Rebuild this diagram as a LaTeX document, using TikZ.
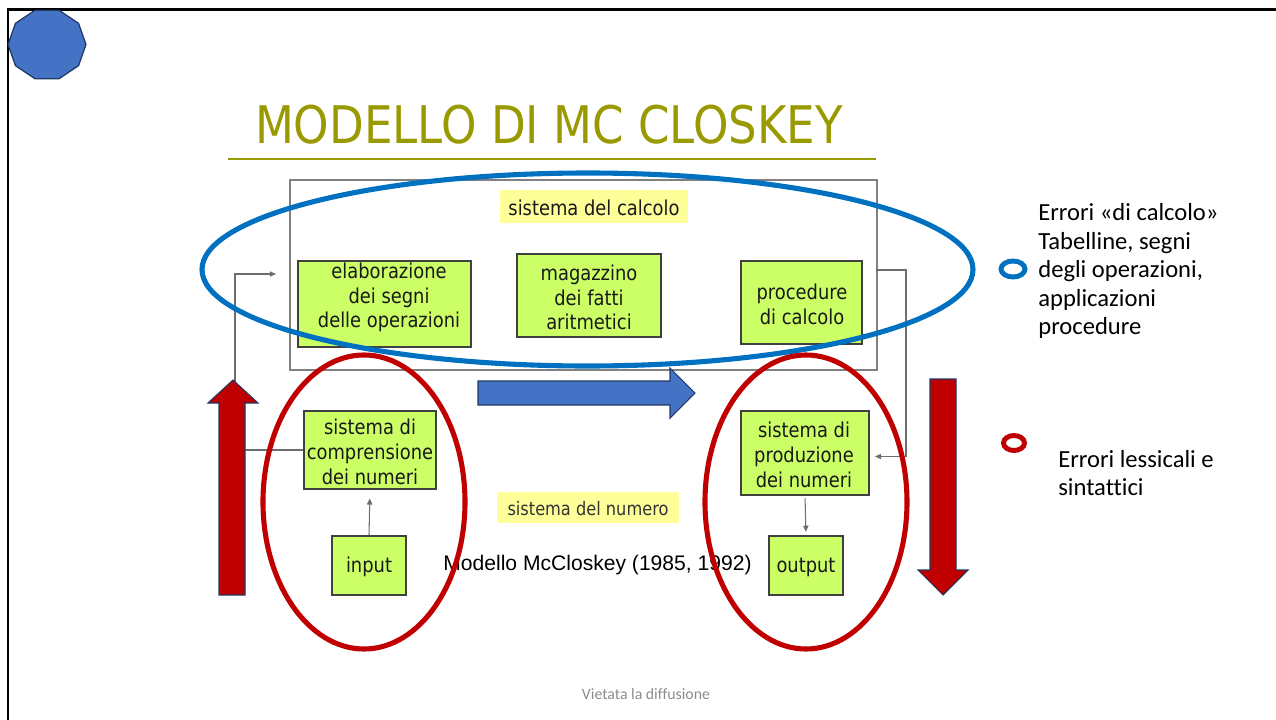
\documentclass[tikz,border=0pt]{standalone}
\usepackage{fontspec}
\setmainfont[Ligatures=NoCommon]{Carlito}
\newfontfamily\boxfont[FakeStretch=0.87]{DejaVu Sans}
\newfontfamily\arialfont{Liberation Sans}
\usetikzlibrary{arrows.meta}

\definecolor{titleolive}{RGB}{153,153,0}
\definecolor{boxgreen}{RGB}{204,255,102}
\definecolor{labelyellow}{RGB}{255,255,153}
\definecolor{ringblue}{RGB}{0,112,192}
\definecolor{ringred}{RGB}{192,0,0}
\definecolor{shapeblue}{RGB}{68,114,196}
\definecolor{shapeedge}{RGB}{32,56,100}
\definecolor{framegray}{RGB}{128,128,128}
\definecolor{conngray}{RGB}{110,110,110}
\definecolor{boxedge}{RGB}{64,64,64}
\definecolor{footgray}{RGB}{140,140,140}

\tikzset{
  wh/.style 2 args={minimum width=#1*0.02cm, minimum height=#2*0.02cm},
  gbox/.style={draw=boxedge, fill=boxgreen, line width=0.7pt, inner sep=0pt},
  btext/.style={font=\boxfont\fontsize{11.7}{13.9}\selectfont, align=center,
    inner sep=0pt, text=black!90},
  ylabel/.style={fill=labelyellow, inner sep=0pt},
  conn/.style={draw=conngray, line width=0.6pt,
    -{Triangle[length=3.5pt,width=3pt]}},
  bigring/.style={line width=2.9pt},
  blockarrow/.style={draw=shapeedge, line width=0.6pt, line join=miter},
  sidetext/.style={font=\fontsize{14}{16.2}\selectfont, align=left,
    inner sep=0pt, anchor=west},
}

\begin{document}
\begin{tikzpicture}[x=0.02cm, y=-0.02cm]
\useasboundingbox (0,0) rectangle (1276,720);

% slide frame
\draw[line width=1.7pt] (8,720) -- (8,9.5) -- (1276,9.5);

% decagon badge
\begin{scope}[shift={(47,44.5)}]
  \draw[fill=shapeblue, draw=shapeedge, line width=0.7pt]
    (0:39 and 36) -- (36:39 and 36) -- (72:39 and 36) -- (108:39 and 36)
    -- (144:39 and 36) -- (180:39 and 36) -- (216:39 and 36)
    -- (252:39 and 36) -- (288:39 and 36) -- (324:39 and 36) -- cycle;
\end{scope}

% title and rule
\node[font=\boxfont\fontsize{29.5}{35}\selectfont, text=titleolive,
  anchor=base, inner sep=0pt] (title) at (549,143) {MODELLO DI MC CLOSKEY};
\draw[titleolive, line width=1.7pt] (228,159) -- (876,159);

% calculation system frame
\node[draw=framegray, line width=0.8pt, wh={587}{190}] (calc) at (583.5,275) {};
\node[ylabel, wh={188}{33}] (calclab) at (594,206.5) {};
\node[btext] (calclabt) at (594,208) {sistema del calcolo};

% calculation modules
\node[gbox, wh={173}{86}] (elab) at (384.5,304) {};
\node[btext] (elabt) at (389,297.5) {elaborazione\\dei segni\\delle operazioni};
\node[gbox, wh={144}{83}] (mag) at (589,295.5) {};
\node[btext] (magt) at (589,297.5) {magazzino\\dei fatti\\aritmetici};
\node[gbox, wh={121}{83}] (proc) at (801.5,302.5) {};
\node[btext] (proct) at (802,304.5) {procedure\\di calcolo};

% number system
\node[ylabel, wh={182}{31}] (numlab) at (588,507.5) {};
\node[btext, font=\boxfont\fontsize{10.6}{13}\selectfont, text=black!80] (numlabt)
  at (588,509) {sistema del numero};

\node[gbox, wh={132}{78}] (comp) at (370,450) {};
\node[btext, font=\boxfont\fontsize{11.7}{14.2}\selectfont] (compt) at (370,451.5)
  {sistema di\\comprensione\\dei numeri};
\node[gbox, wh={74}{59}] (input) at (369,565.5) {};
\node[btext] (inputt) at (369,567) {input};

\node[gbox, wh={128}{84}] (prod) at (805,453) {};
\node[btext, font=\boxfont\fontsize{11.7}{14.2}\selectfont] (prodt) at (804,455)
  {sistema di\\produzione\\dei numeri};
\node[gbox, wh={74}{59}] (output) at (806,565.5) {};
\node[btext] (outputt) at (806,567) {output};

% connectors
\coordinate (calcin) at (276,274);
\coordinate (lbend) at (235,274);
\draw[conn] (comp.west) -| (lbend) -- (calcin);
\coordinate (rstart) at (876,270);
\coordinate (rbend) at (906,270);
\draw[conn, shorten >=3pt] (rstart) -- (rbend) |- ([yshift=-2pt]prod.east);
\draw[conn, shorten >=5pt] (input.north) -- (comp.south);
\draw[conn, shorten <=1.5pt, shorten >=2pt] (prod.south) -- (output.north);

% caption
\node[font=\arialfont\fontsize{12}{14}\selectfont, anchor=base, inner sep=0pt]
  (caption) at (597.5,570) {Modello McCloskey (1985, 1992)};

% highlighting rings
\draw[ringblue, bigring] (587.5,269.5) ellipse [x radius=385.5, y radius=96.5];
\draw[ringred, bigring] (364,502) ellipse [x radius=101, y radius=147];
\draw[ringred, bigring] (806,502) ellipse [x radius=101, y radius=147];

% block arrows
\draw[blockarrow, fill=shapeblue] (478,381) -- (670,381) -- (670,368)
  -- (695,393) -- (670,418) -- (670,405) -- (478,405) -- cycle;
\draw[blockarrow, fill=ringred] (219,595) -- (219,403) -- (208,403)
  -- (233,380) -- (258,403) -- (245,403) -- (245,595) -- cycle;
\draw[blockarrow, fill=ringred] (930,379) -- (956,379) -- (956,570)
  -- (968,570) -- (943,595) -- (918,570) -- (930,570) -- cycle;

% legend
\draw[ringblue, line width=2.8pt] (1013,269) ellipse [x radius=12, y radius=8];
\node[sidetext] (legcalc) at (1038,271)
  {Errori «di calcolo»\\Tabelline, segni\\degli operazioni,\\applicazioni\\procedure};
\draw[ringred, line width=2.8pt] (1014,443) ellipse [x radius=10.5, y radius=7.5];
\node[sidetext] (leglex) at (1058,473) {Errori lessicali e\\sintattici};

% footer
\node[font=\fontsize{9}{11}\selectfont, text=footgray, inner sep=0pt]
  (footer) at (646,694) {Vietata la diffusione};
\end{tikzpicture}
\end{document}
